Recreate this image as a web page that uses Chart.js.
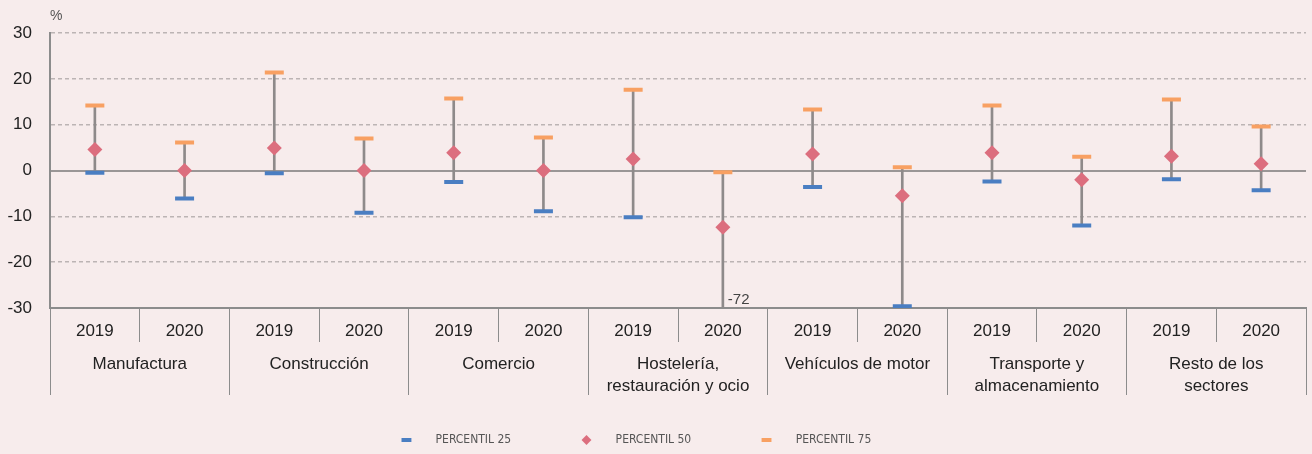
<!DOCTYPE html>
<html>
<head>
<meta charset="utf-8">
<script src="https://cdn.jsdelivr.net/npm/chart.js@4"></script>
<style>
  html, body { margin: 0; padding: 0; background: #f7ecec; }
  #wrap { width: 1312px; height: 454px; position: relative; }
</style>
</head>
<body>
<div id="wrap"><canvas id="chartPct"></canvas></div>
<script>
const years = ["2019", "2020", "2019", "2020", "2019", "2020", "2019", "2020", "2019", "2020", "2019", "2020", "2019", "2020"];
const sectors = [
  "Manufactura",
  "Construcción",
  "Comercio",
  ["Hostelería,", "restauración y ocio"],
  "Vehículos de motor",
  ["Transporte y", "almacenamiento"],
  ["Resto de los", "sectores"],
];
const p25 = [-0.5, -6.1, -0.6, -9.2, -2.5, -8.9, -10.2, -72, -3.6, -29.6, -2.4, -12.0, -1.9, -4.3];
const p50 = [4.6, 0.0, 4.9, 0.0, 3.9, 0.0, 2.5, -12.4, 3.6, -5.5, 3.9, -2.0, 3.1, 1.5];
const p75 = [14.2, 6.1, 21.4, 7.0, 15.7, 7.2, 17.6, -0.4, 13.3, 0.7, 14.2, 3.0, 15.5, 9.6];
const yTicks = [-30, -20, -10, 0, 10, 20, 30];

const axisGray = "#8c8c8c";
const gridGray = "#bcb4b4";
const txt = "#222";
const baseFont = { family: "'Liberation Sans', Arial, sans-serif", size: 17, lineHeight: 1.25 };

// "%" unit over the y axis, and the value of bars cut off by the axis minimum
const extraText = {
  id: "extraText",
  afterDatasetsDraw(chart) {
    const { ctx, chartArea, scales } = chart;
    ctx.save();
    ctx.fillStyle = "#555";
    ctx.font = "14px 'Liberation Sans', Arial, sans-serif";
    ctx.textAlign = "left";
    ctx.textBaseline = "middle";
    ctx.fillText("%", chartArea.left, 16);
    ctx.fillStyle = "#444";
    ctx.font = "15px 'Liberation Sans', Arial, sans-serif";
    ctx.textBaseline = "bottom";
    p25.forEach((v, i) => {
      if (v < scales.y.min) {
        ctx.fillText(String(v), scales.x.getPixelForValue(i) + 5, chartArea.bottom - 1);
      }
    });
    ctx.restore();
  },
};

const chartPct = new Chart("chartPct", {
  type: "bar",
  data: {
    labels: years,
    datasets: [
      {
        label: "rango",
        data: p25.map((v, i) => [v, p75[i]]),
        backgroundColor: "#8e8a8a",
        barThickness: 2,
        order: 10,
      },
      {
        type: "line",
        label: "PERCENTIL 25",
        data: p25,
        showLine: false,
        pointStyle: "line",
        pointRadius: 9.5,
        pointBorderWidth: 4,
        borderColor: "#4a7ec2",
        backgroundColor: "#4a7ec2",
        order: 0,
      },
      {
        type: "line",
        label: "PERCENTIL 50",
        data: p50,
        showLine: false,
        pointStyle: "rectRot",
        pointRadius: 7.5,
        pointBorderWidth: 0,
        borderColor: "#dc6e7e",
        backgroundColor: "#dc6e7e",
        order: 0,
      },
      {
        type: "line",
        label: "PERCENTIL 75",
        data: p75,
        showLine: false,
        pointStyle: "line",
        pointRadius: 9.5,
        pointBorderWidth: 4,
        borderColor: "#f8a062",
        backgroundColor: "#f8a062",
        order: 0,
      },
    ],
  },
  options: {
    responsive: true,
    maintainAspectRatio: false,
    animation: false,
    events: [],
    layout: {
      autoPadding: false,
      padding: { top: 33, right: 6, left: 0, bottom: -2 },
    },
    plugins: {
      tooltip: { enabled: false },
      legend: {
        position: "bottom",
        labels: {
          usePointStyle: true,
          boxWidth: 12,
          boxHeight: 7,
          padding: 35,
          color: "#555",
          font: { family: "'Liberation Sans Narrow', 'DejaVu Sans Condensed', sans-serif", size: 12 },
          filter: (item) => item.datasetIndex !== 0,
          generateLabels(chart) {
            const items = Chart.defaults.plugins.legend.labels.generateLabels(chart);
            items.forEach((it) => { it.text = "     " + it.text + "          "; });
            return items;
          },
        },
      },
    },
    scales: {
      x: {
        offset: true,
        grid: {
          offset: true,
          drawOnChartArea: false,
          drawTicks: true,
          tickLength: 34,
          color: axisGray,
          lineWidth: 1,
        },
        border: { color: axisGray, width: 2 },
        ticks: { color: txt, font: baseFont, padding: -21, maxRotation: 0, autoSkip: false },
        afterFit: (s) => { s.height = 32; },
      },
      x2: {
        type: "category",
        labels: sectors,
        position: "bottom",
        offset: true,
        grid: {
          offset: true,
          drawOnChartArea: false,
          drawTicks: true,
          tickLength: 55,
          color: axisGray,
          lineWidth: 1,
        },
        border: { display: false },
        ticks: { color: txt, font: baseFont, padding: -41, maxRotation: 0, autoSkip: false },
        afterFit: (s) => { s.height = 59; },
      },
      y: {
        min: -30,
        max: 30,
        afterBuildTicks: (s) => { s.ticks = yTicks.map((v) => ({ value: v })); },
        grid: {
          drawTicks: false,
          color: (c) => (c.tick && (c.tick.value === 0 || c.tick.value === -30) ? "transparent" : gridGray),
          lineWidth: 1.5,
        },
        border: { color: axisGray, width: 2, dash: [4, 3] },
        ticks: { color: txt, font: baseFont, padding: 18 },
        afterFit: (s) => { s.width = 50; },
      },
      y0: {
        min: -30,
        max: 30,
        position: "left",
        afterBuildTicks: (s) => { s.ticks = yTicks.map((v) => ({ value: v })); },
        grid: {
          drawTicks: false,
          color: (c) => (c.tick && c.tick.value === 0 ? "#9a9696" : "transparent"),
          lineWidth: 2,
        },
        border: { display: false },
        ticks: { display: false },
        afterFit: (s) => { s.width = 0; },
      },
    },
  },
  plugins: [extraText],
});
</script>
</body>
</html>
